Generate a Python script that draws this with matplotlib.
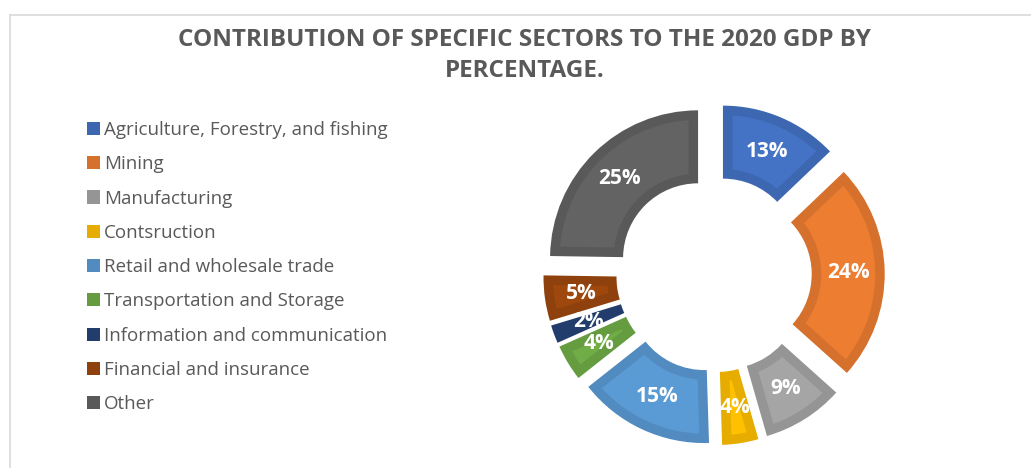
import numpy as np
import matplotlib
matplotlib.use("Agg")
import matplotlib.pyplot as plt
from matplotlib.patches import Wedge, Polygon, Patch
from matplotlib.colors import to_rgb
from matplotlib.lines import Line2D

# GDP shares by sector, 2020 (percent, as labelled)
sectors = [
    "Agriculture, Forestry, and fishing",
    "Mining",
    "Manufacturing",
    "Contsruction",
    "Retail and wholesale trade",
    "Transportation and Storage",
    "Information and communication",
    "Financial and insurance",
    "Other",
]
shares = [13, 24, 9, 4, 15, 4, 2, 5, 25]
colors = ["#4472C4", "#ED7D31", "#A5A5A5", "#FFC000", "#5B9BD5",
          "#70AD47", "#264478", "#9E480E", "#636363"]

TITLE = "CONTRIBUTION OF SPECIFIC SECTORS TO THE 2020 GDP BY\nPERCENTAGE."
TEXT_GREY = "#595959"

W, H, DPI = 1031, 468, 100
# donut geometry in pixels
CX, CY = 714.0, 274.5
R_OUT, R_IN = 148.0, 75.0
EXPLODE = 22.7
BAND = 9.5


def darker(c, f=0.9):
    r, g, b = to_rgb(c)
    return (r * f, g * f, b * f)


def arc(r, a1, a2, n=40):
    t = np.radians(np.linspace(a1, a2, n))
    return np.column_stack([r * np.cos(t), r * np.sin(t)])


def inset_shape(t1, t2, r_in, r_out, d):
    """Lighter inner face of a ring segment, inset by d on every side."""
    ro, ri = r_out - d, r_in + d
    do = np.degrees(np.arcsin(d / ro))
    if t2 - t1 - 2 * do <= 0:
        return None
    outer = arc(ro, t2 - do, t1 + do)
    half = np.radians((t2 - t1) / 2)
    apex_r = d / np.sin(half)
    if apex_r <= ri:
        di = np.degrees(np.arcsin(d / ri))
        inner = arc(ri, t1 + di, t2 - di)
        return np.vstack([outer, inner])
    # thin segment: the inset sides meet before reaching the inner radius
    mid = np.radians((t1 + t2) / 2)
    apex = np.array([[apex_r * np.cos(mid), apex_r * np.sin(mid)]])
    return np.vstack([outer, apex])


fig = plt.figure(figsize=(W / DPI, H / DPI), dpi=DPI)
fig.patch.set_facecolor("white")

# chart-area border (top and left edges visible)
fig.add_artist(Line2D([9.5 / W, 1.0], [1 - 14.5 / H, 1 - 14.5 / H],
                      color="#D9D9D9", lw=1.2, transform=fig.transFigure))
fig.add_artist(Line2D([9.5 / W, 9.5 / W], [1 - 14.5 / H, 0.0],
                      color="#D9D9D9", lw=1.2, transform=fig.transFigure))

fig.text(524.5 / W, 1 - 55.5 / H, TITLE, ha="center", va="center",
         fontsize=17.5, fontweight="bold", color=TEXT_GREY,
         family="Open Sans", linespacing=1.42)

# donut axes: one data unit = one pixel
S = 380
ax = fig.add_axes([(CX - S / 2) / W, (H - CY - S / 2) / H, S / W, S / H])
ax.set_xlim(-S / 2, S / 2)
ax.set_ylim(-S / 2, S / 2)
ax.set_axis_off()

total = sum(shares)
start = 90.0
for val, col in zip(shares, colors):
    span = val / total * 360
    t2 = start
    t1 = start - span
    start = t1
    mid = np.radians((t1 + t2) / 2)
    ox, oy = EXPLODE * np.cos(mid), EXPLODE * np.sin(mid)

    ax.add_patch(Wedge((ox, oy), R_OUT, t1, t2, width=R_OUT - R_IN,
                       facecolor=darker(col), edgecolor="none"))
    face = inset_shape(t1, t2, R_IN, R_OUT, BAND)
    if face is not None:
        ax.add_patch(Polygon(face + [ox, oy], closed=True,
                             facecolor=col, edgecolor="none"))

    rm = (R_IN + R_OUT) / 2
    ax.text(ox + rm * np.cos(mid), oy + rm * np.sin(mid), f"{val}%",
            ha="center", va="center", color="white", fontsize=15,
            fontweight="bold", family="Open Sans")

handles = [Patch(facecolor=darker(c), edgecolor="none") for c in colors]
fig.legend(handles, sectors, loc="upper left",
           bbox_to_anchor=(70 / W, 1 - 104 / H), frameon=False,
           labelcolor=TEXT_GREY, handlelength=0.7, handleheight=0.7,
           handletextpad=0.22, labelspacing=0.87,
           prop={"family": "Open Sans", "size": 13.5})

fig.savefig("out.png", dpi=DPI)
